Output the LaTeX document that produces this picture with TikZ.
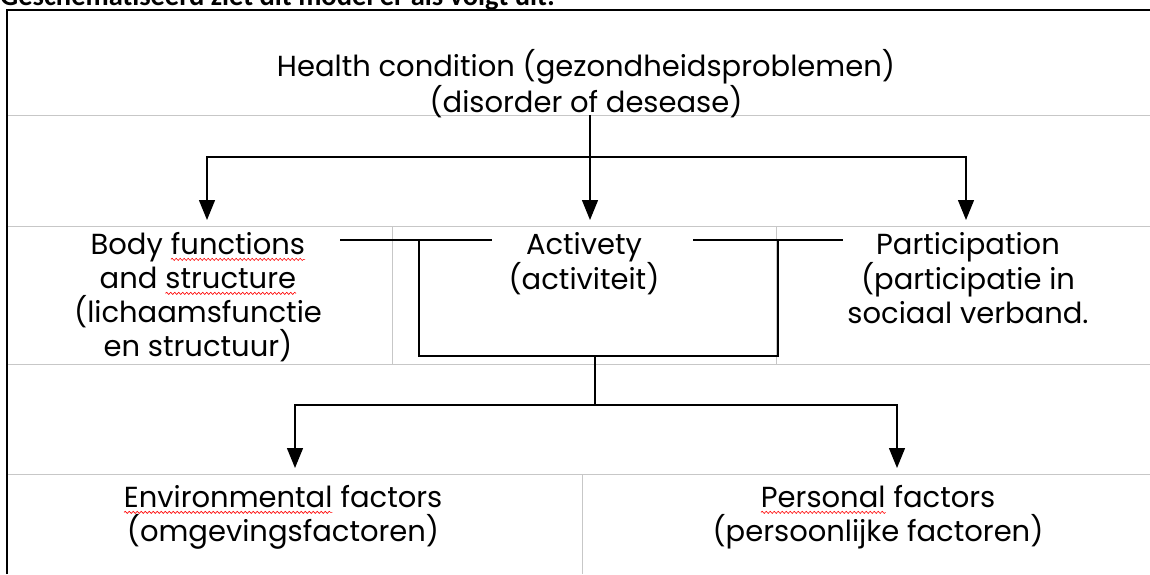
\documentclass[tikz,border=0pt]{standalone}
\usepackage{fontspec}
\setmainfont{Poppins}
\newfontfamily\headfont{Carlito}
\usetikzlibrary{arrows.meta,decorations.pathmorphing}

% red wavy underline, as a spell checker draws it
\newcommand\spellerr[1]{\tikz[baseline=(w.base)]{%
  \node[inner sep=0pt, outer sep=0pt] (w) {#1};
  \draw[red, line width=0.6pt, decorate, decoration={snake, segment length=4pt, amplitude=1.1pt}]
    ([yshift=-5pt]w.base west) -- ([yshift=-5pt]w.base east);}}

\tikzset{
  lbl/.style={align=center, inner sep=0pt, font=\fontsize{29}{34}\selectfont},
  grid/.style={draw=black!22, line width=1pt},
  frame/.style={line width=2pt},
  conn/.style={line width=1.3pt},
  arr/.style={conn, -{Triangle[width=16pt,length=20pt]}}
}

\begin{document}
\begin{tikzpicture}[x=1pt, y=-1pt]
\useasboundingbox (0,0) rectangle (1150,574);

% caption, cut off at the top
\node[anchor=base west, inner sep=0pt, font=\headfont\bfseries\fontsize{28.5}{34}\selectfont] (cap) at (0,5) {Geschematiseerd ziet dit model er als volgt uit:};

% table lines
\draw[grid] (7,115) -- (1150,115);
\draw[grid] (7,226) -- (1150,226);
\draw[grid] (7,364) -- (1150,364);
\draw[grid] (7,474) -- (1150,474);
\draw[grid] (392,226) -- (392,364);
\draw[grid] (776,226) -- (776,364);
\draw[grid] (582,474) -- (582,574);
\draw[frame] (7,574) -- (7,10) -- (1150,10);

% texts
\node[lbl, font=\fontsize{29}{32}\selectfont] (health) at (586,84) {Health condition (gezondheidsproblemen)\\(disorder of desease)};
\node[lbl, anchor=north] (body) at (198,232) {Body \spellerr{functions}\\and \spellerr{structure}\\(lichaamsfunctie\\en structuur)};
\node[lbl, anchor=north] (act) at (584,232) {Activety\\(activiteit)};
\node[lbl, anchor=north] (part) at (968,232) {Participation\\(participatie in\\sociaal verband.};
\node[lbl, anchor=north] (env) at (283,485) {\spellerr{Environmental} factors\\(omgevingsfactoren)};
\node[lbl, anchor=north] (pers) at (878,485) {\spellerr{Personal} factors\\(persoonlijke factoren)};

% connectors
\coordinate (hcfoot) at (590,115);
\coordinate (split) at (590,157);
\coordinate (bodyin) at (207,220);
\coordinate (actin) at (590,220);
\coordinate (partin) at (966,220);
\draw[arr] (hcfoot) -- (actin);
\draw[arr] (split) -| (bodyin);
\draw[arr] (split) -| (partin);

\coordinate (bodyR) at (340,240);
\coordinate (actL) at (492,240);
\coordinate (actR) at (693,240);
\coordinate (partL) at (843,240);
\coordinate (bracketL) at (419,240);
\coordinate (bracketR) at (778,240);
\coordinate (foot) at (595,356);
\coordinate (split2) at (595,405);
\coordinate (envin) at (295,468);
\coordinate (persin) at (897,468);
\draw[conn] (bodyR) -- (actL);
\draw[conn] (actR) -- (partL);
\draw[conn] (bracketL) |- (bracketR |- foot) -- (bracketR);
\draw[conn] (foot) -- (split2);
\draw[arr] (split2) -| (envin);
\draw[arr] (split2) -| (persin);
\end{tikzpicture}
\end{document}
